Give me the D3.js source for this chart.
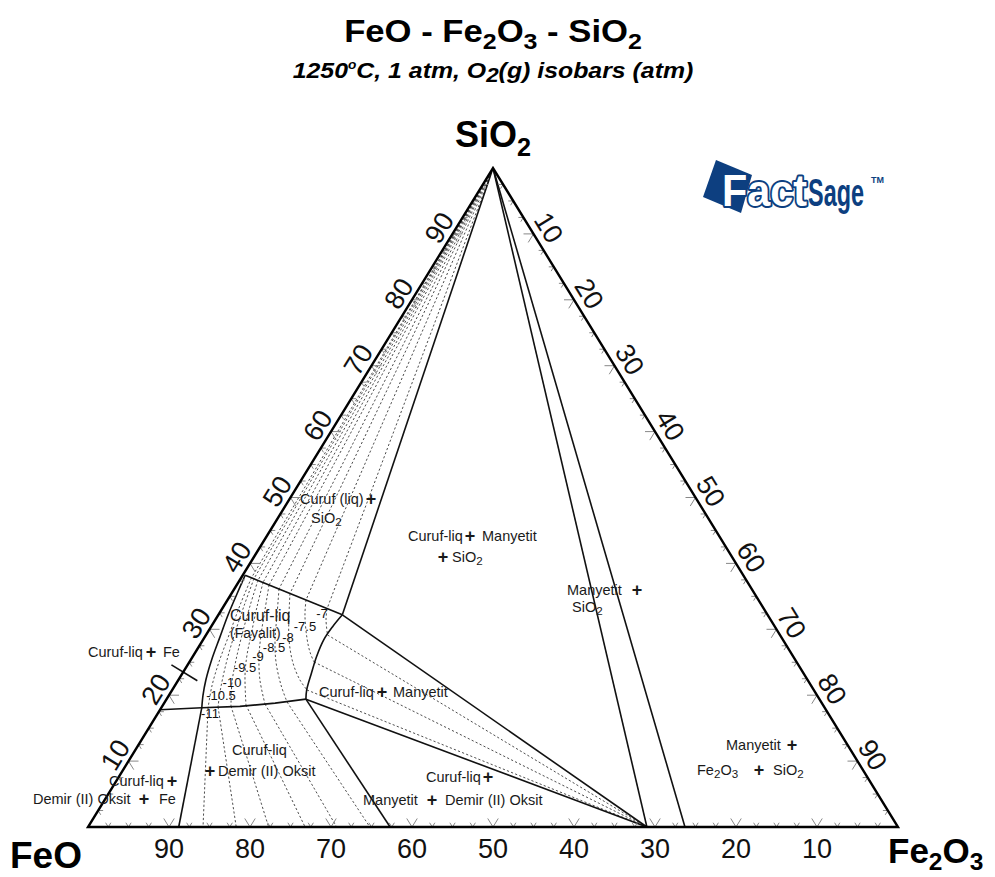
<!DOCTYPE html>
<html>
<head>
<meta charset="utf-8">
<script src="https://cdn.jsdelivr.net/npm/d3@7"></script>
<style>
  body { margin: 0; background: #fff; }
  svg { display: block; font-family: "Liberation Sans", Arial, sans-serif; }
</style>
</head>
<body>
<svg id="chart" width="995" height="877"></svg>
<script>
// ---------------------------------------------------------------
// FeO – Fe2O3 – SiO2 section at 1250 °C, 1 atm, with O2(g) isobars.
// Compositions are wt% written as [SiO2, Fe2O3]; FeO is the balance.
// ---------------------------------------------------------------

const tickValues = d3.range(2.5, 100, 2.5);
const tickLabels = [10, 20, 30, 40, 50, 60, 70, 80, 90];

// invariant compositions
const magnetite = [0, 69.0];
const spinelLimit = [0, 73.7];
const wustiteFeSat = [0, 11.2];
const wustiteMtSat = [0, 37.3];
const liqSiO2Mt = [32.2, 15.3];
const liqMtWus = [19.4, 17.2];
const liqWusFe = [18.1, 5.0];

// liquid boundaries
const sio2Liquidus = [[38.2, 0.3], liqSiO2Mt];
const magnetiteLiquidus = [liqSiO2Mt, [30.4, 15.0], [28.4, 14.9], [25.8, 15.3], [23.4, 15.9], [20.8, 16.6], liqMtWus];
const wustiteLiquidus = [[17.8, 0], liqWusFe, [18.3, 9.6], [18.8, 13.7], liqMtWus];
const ironSaturation = [[38.2, 0.3], [35.4, 0.7], [32.2, 1.2], [28.7, 1.9], [25.3, 2.6], [22.3, 3.4], [20.0, 4.2], liqWusFe];

// straight phase boundaries (tie lines of the three-phase fields)
const tieBoundaries = [
  [[100, 0], liqSiO2Mt],
  [liqSiO2Mt, magnetite],
  [liqMtWus, magnetite],
  [liqMtWus, wustiteMtSat],
  [liqWusFe, wustiteFeSat],
  [[100, 0], magnetite],
  [[100, 0], spinelLimit],
  [[24.6, -2.0], [22.2, 2.4]]
];

// log10 p(O2) isobars: path through the liquid, and the oxide each one meets
const isobarLevels = [-11, -10.5, -10, -9.5, -9, -8.5, -8, -7.5, -7];
const isobarLiquid = [
  [[37.83, 1.27], [33.69, 1.93], [29.14, 2.84], [25.04, 3.65], [21.40, 4.60], [18.06, 5.79]],
  [[37.68, 1.65], [33.54, 2.49], [28.98, 3.53], [24.73, 4.67], [20.49, 6.05], [18.21, 6.95]],
  [[37.42, 2.27], [33.54, 3.23], [29.14, 4.44], [25.34, 5.60], [22.00, 6.78], [18.36, 8.47]],
  [[37.12, 3.05], [33.38, 4.17], [29.14, 5.56], [26.10, 6.58], [23.07, 7.85], [18.51, 10.25]],
  [[36.72, 3.99], [32.93, 5.38], [29.14, 6.79], [25.80, 8.21], [22.31, 10.07], [18.66, 12.52]],
  [[36.12, 5.52], [32.17, 7.25], [28.38, 8.90], [25.04, 10.69], [21.55, 13.05], [18.97, 15.09]],
  [[35.43, 7.22], [32.17, 8.73], [28.38, 10.63], [24.89, 12.86], [22.31, 15.01], [20.79, 16.64]],
  [[34.45, 9.69], [32.17, 10.70], [28.68, 12.69], [26.56, 14.12], [25.04, 15.38]],
  [[33.08, 12.96], [31.41, 13.68], [29.14, 15.0]]
];
const isobarOxideFe2O3 = [14.2, 18.3, 22.3, 26.8, 30.7, 34.8, 69.0, 69.0, 69.0];
const isobarLabelAt = [
  [17.15, 6.48], [19.88, 6.48], [22.00, 6.78], [24.13, 7.32], [25.80, 8.09],
  [27.31, 9.31], [28.68, 10.35], [30.50, 11.54], [32.47, 12.65]
];

// ---------------------------------------------------------------
const svg = d3.select("#chart");

// ternary projection: Fe2O3 runs along the base, SiO2 rises to the apex
const along = d3.scaleLinear().domain([0, 100]).range([88, 898]);
const rise = d3.scaleLinear().domain([0, 100]).range([827, 168]);
const proj = ([s, f]) => [along(f + s / 2), rise(s)];

const line = d3.line().x(d => proj(d)[0]).y(d => proj(d)[1]);
const smooth = d3.line().x(d => proj(d)[0]).y(d => proj(d)[1]).curve(d3.curveCatmullRom.alpha(0.5));

const A = proj([0, 0]), B = proj([0, 100]), C = proj([100, 0]);
const unit = (p, q) => { const dx = q[0] - p[0], dy = q[1] - p[1], l = Math.hypot(dx, dy); return [dx / l, dy / l]; };

// rich text: {x} subscript, [x] superscript
function rich(sel, str, fs, subScale, subShift) {
  const re = /\{([^}]*)\}|\[([^\]]*)\]|([^{\[]+)/g;
  let m, shift = 0;
  while ((m = re.exec(str))) {
    let target = 0, size = fs, txt;
    if (m[1] !== undefined) { txt = m[1]; target = subShift; size = fs * subScale; }
    else if (m[2] !== undefined) { txt = m[2]; target = -fs * 0.42; size = fs * 0.55; }
    else { txt = m[3]; }
    sel.append("tspan").attr("dy", target - shift).attr("font-size", size).text(txt);
    shift = target;
  }
  return sel;
}

// ---- isobars (dotted) ----
const gIso = svg.append("g").attr("fill", "none").attr("stroke", "#3a3a3a")
  .attr("stroke-width", 0.9).attr("stroke-dasharray", "2.2,2.2");
isobarLevels.forEach((lv, i) => {
  const pts = isobarLiquid[i];
  gIso.append("path").attr("d", line([[100, 0], pts[0]]));
  gIso.append("path").attr("d", smooth(pts));
  gIso.append("path").attr("d", line([pts[pts.length - 1], [0, isobarOxideFe2O3[i]]]));
});

// ---- phase boundaries ----
const gB = svg.append("g").attr("fill", "none").attr("stroke", "#111").attr("stroke-width", 1.6)
  .attr("stroke-linejoin", "round");
gB.append("path").attr("d", line(sio2Liquidus));
gB.append("path").attr("d", smooth(magnetiteLiquidus));
gB.append("path").attr("d", line(wustiteLiquidus));
gB.append("path").attr("d", smooth(ironSaturation));
tieBoundaries.forEach(seg => gB.append("path").attr("d", line(seg)));

// ---- ticks ----
const gT = svg.append("g").attr("fill", "none").attr("stroke", "#888").attr("stroke-width", 1);
function tick(p, a1, a2, len) {
  gT.append("path").attr("d",
    `M${p[0] + a1[0] * len},${p[1] + a1[1] * len}L${p[0]},${p[1]}L${p[0] + a2[0] * len},${p[1] + a2[1] * len}`);
}
tickValues.forEach(v => {
  const len = v % 10 === 0 ? 10 : 5;
  tick(proj([0, 100 - v]), unit(A, C), unit(B, C), len);      // base: FeO
  tick(proj([v, 0]), [1, 0], unit(C, B), len);                 // left: SiO2
  tick(proj([100 - v, v]), [-1, 0], unit(C, A), len);          // right: Fe2O3
});

// ---- triangle frame ----
svg.append("path").attr("d", `M${A}L${B}L${C}Z`).attr("fill", "none")
  .attr("stroke", "#000").attr("stroke-width", 2.4).attr("stroke-linejoin", "miter");

// ---- tick labels ----
const angle = Math.atan2(C[1] - A[1], C[0] - A[0]) * 180 / Math.PI;
const gL = svg.append("g").attr("font-size", 27).attr("fill", "#111")
  .attr("text-anchor", "middle").attr("dominant-baseline", "central");
tickLabels.forEach(v => {
  const pb = proj([0, 100 - v]);
  gL.append("text").attr("x", pb[0]).attr("y", pb[1] + 22).text(v);
  const pl = proj([v, 0]);
  gL.append("text").attr("transform", `translate(${pl[0] - 13},${pl[1] - 6}) rotate(${angle})`).text(v);
  const pr = proj([100 - v, v]);
  gL.append("text").attr("transform", `translate(${pr[0] + 15},${pr[1] - 6}) rotate(${-angle})`).text(v);
});

// ---- corner labels ----
svg.append("text").attr("x", 10).attr("y", 868).attr("font-size", 37).attr("font-weight", "bold").text("FeO");
rich(svg.append("text").attr("x", 888).attr("y", 863).attr("font-weight", "bold"), "Fe{2}O{3}", 35, 0.7, 7);
rich(svg.append("text").attr("x", 493).attr("y", 147).attr("text-anchor", "middle").attr("font-weight", "bold"), "SiO{2}", 36, 0.7, 9);

// ---- titles ----
rich(svg.append("text").attr("transform", "translate(493,42) scale(1.1,1)").attr("text-anchor", "middle")
  .attr("font-weight", "bold"), "FeO - Fe{2}O{3} - SiO{2}", 31.5, 0.72, 7);
rich(svg.append("text").attr("transform", "translate(493,78) scale(1.13,1)").attr("text-anchor", "middle")
  .attr("font-weight", "bold").attr("font-style", "italic"), "1250[o]C, 1 atm, O{2}(g) isobars (atm)", 22, 0.9, 4);

// ---- isobar labels ----
const gIL = svg.append("g").attr("font-size", 13).attr("fill", "#111")
  .attr("text-anchor", "middle").attr("dominant-baseline", "central");
isobarLevels.forEach((lv, i) => {
  const p = proj(isobarLabelAt[i]);
  gIL.append("text").attr("x", p[0]).attr("y", p[1]).text(String(lv));
});

// ---- phase-field labels ----
const fieldText = [
  { t: "Curuf (liq)", x: 300, y: 504 }, { t: "+", x: 371, y: 504 }, { t: "SiO{2}", x: 311, y: 523 },
  { t: "Curuf-liq", x: 408, y: 541 }, { t: "+", x: 470, y: 541 }, { t: "Manyetit", x: 482, y: 541 },
  { t: "+", x: 443, y: 562 }, { t: "SiO{2}", x: 452, y: 562 },
  { t: "Manyetit", x: 567, y: 595 }, { t: "+", x: 637, y: 595 }, { t: "SiO{2}", x: 572, y: 612 },
  { t: "Curuf-liq", x: 230, y: 621, size: 16 }, { t: "(Fayalit)", x: 230, y: 638, size: 14 },
  { t: "Curuf-liq", x: 88, y: 657 }, { t: "+", x: 151, y: 657 }, { t: "Fe", x: 163, y: 657 },
  { t: "Curuf-liq", x: 319, y: 697 }, { t: "+", x: 382, y: 697 }, { t: "Manyetit", x: 393, y: 697 },
  { t: "Curuf-liq", x: 232, y: 755 }, { t: "+", x: 210, y: 776 }, { t: "Demir (II) Oksit", x: 218, y: 776 },
  { t: "Curuf-liq", x: 109, y: 786 }, { t: "+", x: 172, y: 786 },
  { t: "Demir (II) Oksit", x: 33, y: 804 }, { t: "+", x: 144, y: 804 }, { t: "Fe", x: 159, y: 804 },
  { t: "Curuf-liq", x: 426, y: 782 }, { t: "+", x: 488, y: 782 },
  { t: "Manyetit", x: 363, y: 805 }, { t: "+", x: 432, y: 805 }, { t: "Demir (II) Oksit", x: 445, y: 805 },
  { t: "Manyetit", x: 726, y: 750 }, { t: "+", x: 792, y: 750 },
  { t: "Fe{2}O{3}", x: 697, y: 775 }, { t: "+", x: 759, y: 775 }, { t: "SiO{2}", x: 773, y: 775 }
];
const gF = svg.append("g").attr("fill", "#1a1a1a");
fieldText.forEach(d => {
  if (d.t === "+") {
    gF.append("text").attr("x", d.x).attr("y", d.y + 1).attr("text-anchor", "middle")
      .attr("font-size", 18).attr("font-weight", "bold").text("+");
  } else {
    rich(gF.append("text").attr("x", d.x).attr("y", d.y), d.t, d.size || 14.5, 0.8, 3);
  }
});

// ---- FactSage mark ----
const logo = svg.append("g");
logo.append("polygon").attr("points", "716,160 752,175 741,213 703,197").attr("fill", "#0d3f80");
logo.append("text").attr("x", 722).attr("y", 206).attr("font-size", 44).attr("font-weight", "bold")
  .attr("fill", "#fff").attr("stroke", "#0d3f80").attr("stroke-width", 4).attr("stroke-linejoin", "round")
  .attr("paint-order", "stroke")
  .attr("textLength", 85).attr("lengthAdjust", "spacingAndGlyphs").text("Fact");
logo.append("text").attr("x", 808).attr("y", 206).attr("font-size", 38).attr("font-weight", "bold")
  .attr("fill", "#0d3f80").attr("textLength", 56).attr("lengthAdjust", "spacingAndGlyphs").text("Sage");
logo.append("text").attr("x", 871).attr("y", 183).attr("font-size", 9).attr("font-weight", "bold")
  .attr("fill", "#0d3f80").text("TM");
</script>
</body>
</html>
